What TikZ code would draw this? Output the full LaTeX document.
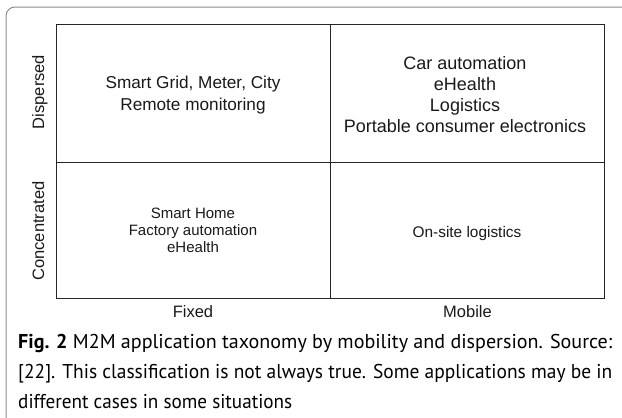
\documentclass[tikz,border=0pt]{standalone}
\usepackage{fontspec}
\setmainfont{Liberation Sans}
\newfontfamily\capfont{PT Sans}
\newcommand{\capline}[2]{\resizebox{#1}{\height}{#2}}
\begin{document}
\begin{tikzpicture}[x=1pt,y=-1pt,
  gridline/.style={draw=black!85,line width=0.9pt},
  frameline/.style={draw=black!45,line width=1pt,rounded corners=9pt},
  celltext/.style={align=center,inner sep=0pt,text=black!90},
  axistext/.style={inner sep=0pt,text=black!90,font=\fontsize{16.5}{18}\selectfont},
  captext/.style={align=left,inner sep=0pt,text=black,font=\capfont\fontsize{20}{30}\selectfont}]
\useasboundingbox (0,0) rectangle (622,418);
% outer frame
\draw[frameline] (6,430) -- (6,7) -- (640,7);
% grid
\coordinate (tl) at (56,24);
\coordinate (br) at (604,298);
\coordinate (mt) at (330,24);
\coordinate (mb) at (330,298);
\coordinate (ml) at (56,162);
\coordinate (mr) at (604,162);
\draw[gridline] (tl) rectangle (br);
\draw[gridline] (mt) -- (mb);
\draw[gridline] (ml) -- (mr);
% cell texts
\node[celltext,font=\fontsize{17.2}{22}\selectfont] (c11) at (193,95) {Smart Grid, Meter, City\\Remote monitoring};
\node[celltext,font=\fontsize{18}{21}\selectfont] (c12) at (465,95) {Car automation\\eHealth\\Logistics\\Portable consumer electronics};
\node[celltext,font=\fontsize{15}{17}\selectfont] (c21) at (193,230.6) {Smart Home\\Factory automation\\eHealth};
\node[celltext,font=\fontsize{15.4}{17}\selectfont] (c22) at (467,234) {On-site logistics};
% axis labels
\node[axistext,rotate=90,anchor=base] (disp) at (44,92) {Dispersed};
\node[axistext,rotate=90,anchor=base] (conc) at (44,231) {Concentrated};
\node[axistext,anchor=base] (fixed) at (193,317.5) {Fixed};
\node[axistext,anchor=base] (mobile) at (467.5,317.5) {Mobile};
% caption
\node[captext,anchor=north west] (cap) at (18,334.5) {\capline{594pt}{{\bfseries Fig. 2} M2M application taxonomy by mobility and dispersion. Source:}\\
\capline{594pt}{[22]. This classification is not always true. Some applications may be in}\\
\capline{274pt}{different cases in some situations}};
\end{tikzpicture}
\end{document}
